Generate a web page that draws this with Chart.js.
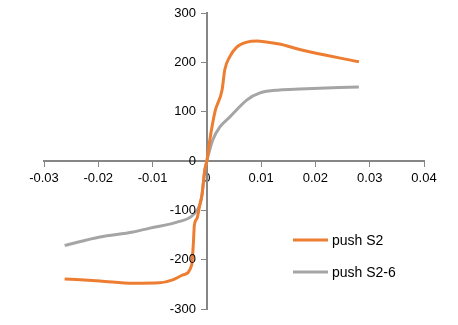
<!DOCTYPE html>
<html>
<head>
<meta charset="utf-8">
<script src="https://cdn.jsdelivr.net/npm/chart.js@4/dist/chart.umd.min.js"></script>
<style>
  html, body { margin: 0; padding: 0; background: #fff; }
  #wrap { width: 458px; height: 325px; }
</style>
</head>
<body>
<div id="wrap"><canvas id="pushChart"></canvas></div>
<script>
// push S2 curve (drift, force)
var s2Drift = [-0.0262, -0.0197, -0.0136, -0.0087, -0.0063, -0.0044, -0.0028, -0.0025, -0.0023, -0.0018, -0.0013, -0.0009, -0.0004, 0,
               0.00055, 0.0015, 0.0028, 0.0033, 0.0042, 0.0055, 0.0074, 0.0092, 0.011, 0.0134, 0.0171, 0.028];
var s2Force = [-239, -243, -248, -247, -241, -231, -211, -170, -130, -116, -89, -69, -20, 0,
               43, 100, 144, 185, 211, 231, 241, 243, 241, 237, 226, 201];

// push S2-6 curve
var s26Drift = [-0.0262, -0.0197, -0.0136, -0.0105, -0.0055, -0.0026, -0.0013, -0.0009, -0.0004, 0,
                0.0011, 0.0024, 0.0042, 0.0074, 0.0098, 0.0134, 0.0171, 0.028];
var s26Force = [-171, -154, -144, -136, -124, -110, -89, -69, -20, 0,
                43, 69, 89, 124, 138, 144, 146, 150];

var xTicks = [-0.03, -0.02, -0.01, 0, 0.01, 0.02, 0.03, 0.04];
var yTicks = [-300, -200, -100, 0, 100, 200, 300];

function toPoints(xs, ys) {
  return xs.map(function(x, i) { return { x: x, y: ys[i] }; });
}

var axisColor = '#868686';
var font = { family: 'Liberation Sans', size: 13 };

// y labels sit left of the crossing axis
var yLabels = {
  id: 'yLabels',
  afterDraw: function(chart) {
    var c = chart.ctx;
    var ax = chart.scales.x.getPixelForValue(0);
    var ys = chart.scales.y;
    c.save();
    c.font = '13px "Liberation Sans"';
    c.fillStyle = '#000';
    c.textAlign = 'right';
    c.textBaseline = 'middle';
    yTicks.forEach(function(v) {
      c.fillText(String(v), ax - 11, ys.getPixelForValue(v));
    });
    c.restore();
  }
};

// legend drawn inside the plot, lower right
var sideLegend = {
  id: 'sideLegend',
  afterDraw: function(chart) {
    var c = chart.ctx;
    c.save();
    c.font = '14px "Liberation Sans"';
    c.textBaseline = 'middle';
    chart.data.datasets.forEach(function(ds, i) {
      var y = 240 + i * 32;
      c.strokeStyle = ds.borderColor;
      c.lineWidth = 3;
      c.beginPath();
      c.moveTo(293, y);
      c.lineTo(328, y);
      c.stroke();
      c.fillStyle = '#000';
      c.fillText(ds.label, 332, y + 1);
    });
    c.restore();
  }
};

var ctx = document.getElementById('pushChart').getContext('2d');
new Chart(ctx, {
  type: 'scatter',
  data: {
    datasets: [{
      label: 'push S2',
      data: toPoints(s2Drift, s2Force),
      borderColor: '#ED7D31',
      backgroundColor: '#ED7D31',
      borderWidth: 3,
      showLine: true,
      pointRadius: 0,
      cubicInterpolationMode: 'monotone'
    }, {
      label: 'push S2-6',
      data: toPoints(s26Drift, s26Force),
      borderColor: '#A5A5A5',
      backgroundColor: '#A5A5A5',
      borderWidth: 3,
      showLine: true,
      pointRadius: 0,
      cubicInterpolationMode: 'monotone'
    }]
  },
  options: {
    responsive: true,
    maintainAspectRatio: false,
    animation: false,
    layout: { padding: { left: 44, right: 34, top: 13, bottom: 16 } },
    plugins: {
      legend: { display: false },
      tooltip: { enabled: false }
    },
    scales: {
      x: {
        type: 'linear',
        position: { y: 0 },
        min: -0.03,
        max: 0.04,
        afterBuildTicks: function(axis) {
          axis.ticks = xTicks.map(function(v) { return { value: v }; });
        },
        ticks: {
          color: '#000',
          font: font,
          padding: 5,
          maxRotation: 0,
          callback: function(v) { return v === 0 ? '0' : v.toFixed(2); }
        },
        grid: { drawOnChartArea: false, color: axisColor, tickLength: 5, lineWidth: 1 },
        border: { color: axisColor, width: 2 }
      },
      y: {
        type: 'linear',
        position: { x: 0 },
        min: -300,
        max: 300,
        afterBuildTicks: function(axis) {
          axis.ticks = yTicks.map(function(v) { return { value: v }; });
        },
        ticks: { display: false },
        grid: { drawOnChartArea: false, color: axisColor, tickLength: 5, lineWidth: 1 },
        border: { color: axisColor, width: 2 }
      }
    }
  },
  plugins: [yLabels, sideLegend]
});
</script>
</body>
</html>
